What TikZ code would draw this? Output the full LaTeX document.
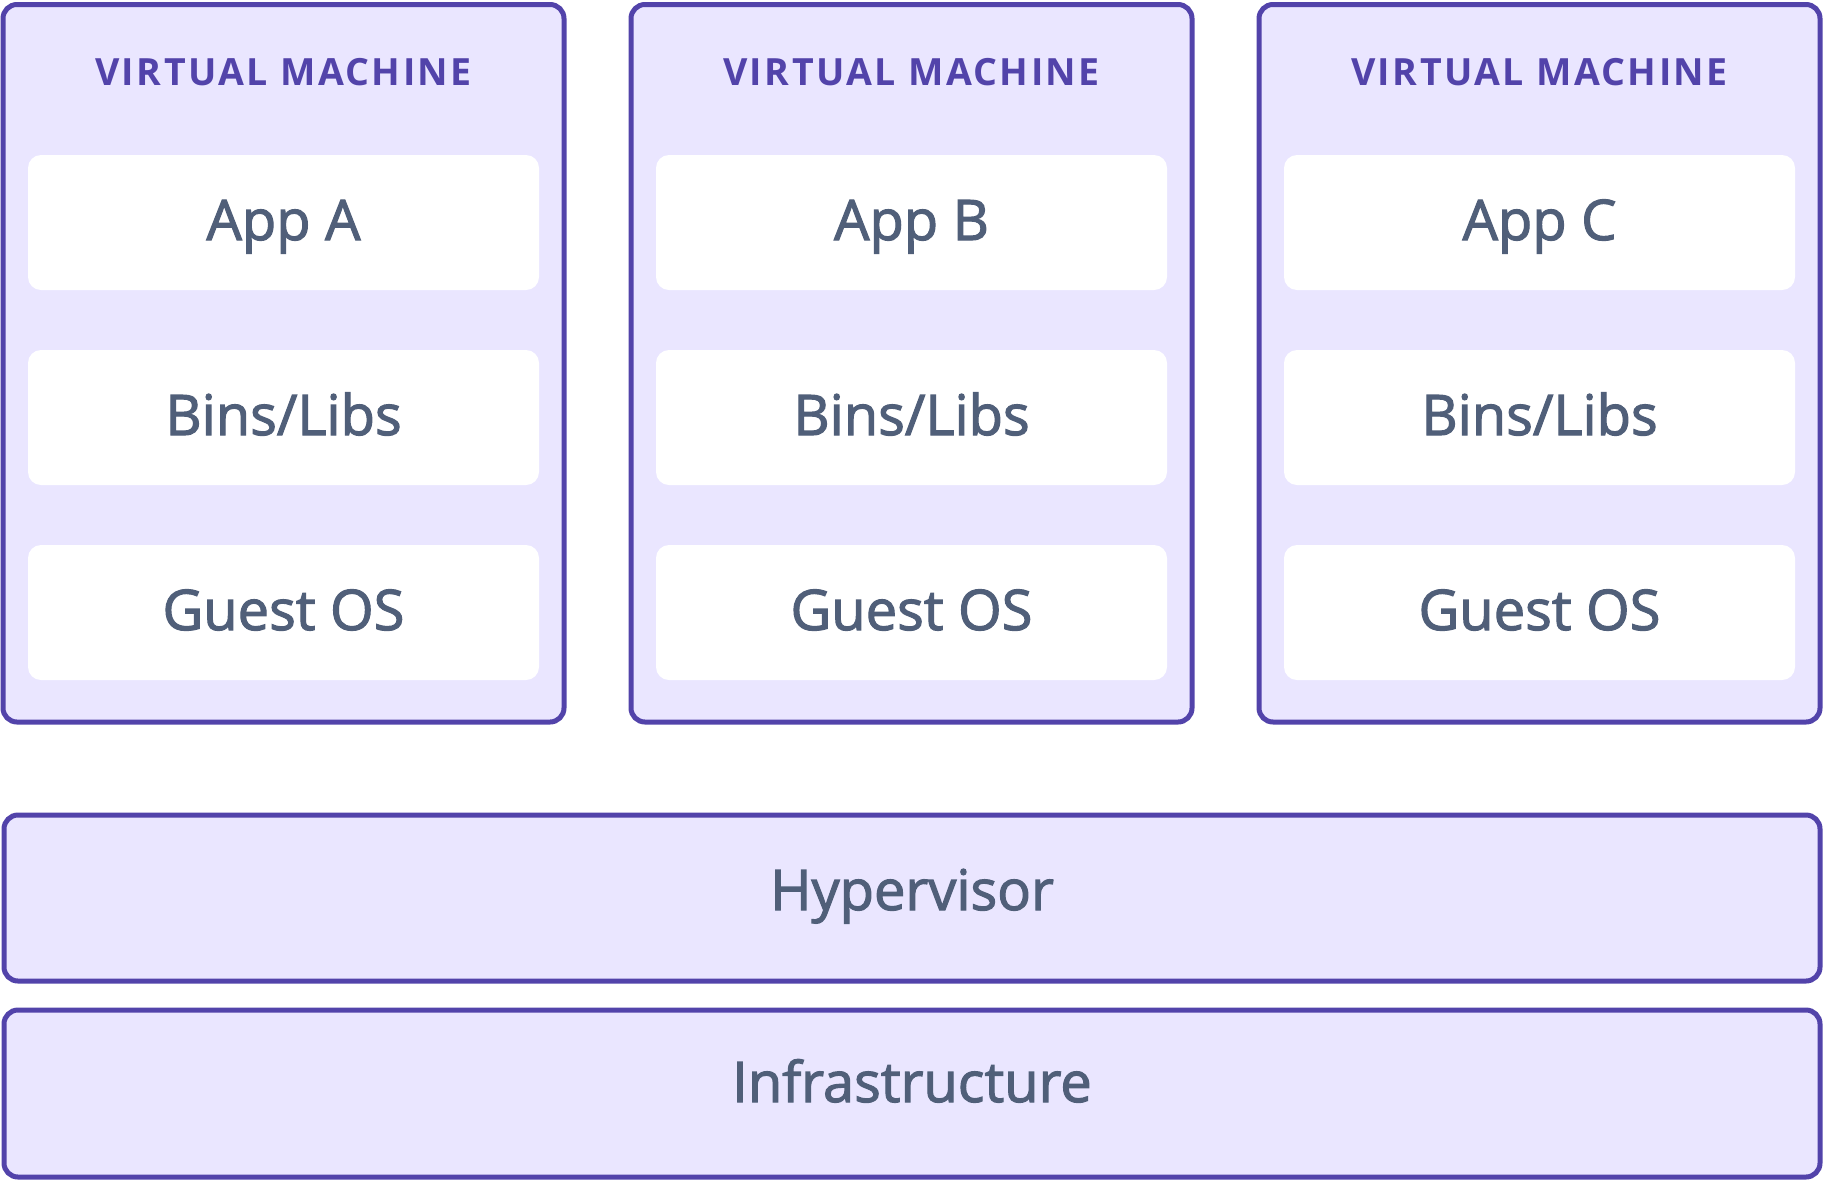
\documentclass[tikz,border=0pt]{standalone}
\usepackage{fontspec}
\setmainfont{Open Sans}
\newfontfamily\labfont[FakeBold=2]{Open Sans}
\newfontfamily\titlefont[LetterSpace=6.5]{Open Sans}
\definecolor{vmborder}{HTML}{5243AA}
\definecolor{vmfill}{HTML}{EAE6FF}
\definecolor{labtext}{HTML}{505F79}
\begin{document}
\begin{tikzpicture}[x=1pt,y=-1pt,
  outerbox/.style={draw=vmborder,fill=vmfill,line width=5pt,rounded corners=14pt},
  innerbox/.style={fill=white,rounded corners=13pt},
  lab/.style={anchor=base,text=labtext,font=\labfont\fontsize{56}{60}\selectfont,inner sep=0pt},
  vmtitle/.style={anchor=base,text=vmborder,font=\titlefont\bfseries\fontsize{37.5}{40}\selectfont,inner sep=0pt}]
\useasboundingbox (0,0) rectangle (1827,1184);
\foreach \i/\app/\dx in {1/A/0,2/B/628,3/C/1256}{
  \begin{scope}[xshift=\dx pt]
  \path[outerbox] (3,4.5) rectangle (564,722);
  \node[vmtitle] (title\i) at (283.5,85) {VIRTUAL MACHINE};
  \path[innerbox] (28,155) rectangle (539,290);
  \path[innerbox] (28,350) rectangle (539,485);
  \path[innerbox] (28,545) rectangle (539,680);
  \node[lab] (app\i) at (283.5,240) {App \app};
  \node[lab] (bins\i) at (283.5,435) {Bins/Libs};
  \node[lab] (guest\i) at (283.5,630) {Guest OS};
  \end{scope}
}
\path[outerbox] (4,815) rectangle (1820,981);
\node[lab] (hyper) at (912,910) {Hypervisor};
\path[outerbox] (4,1010) rectangle (1820,1177);
\node[lab] (infra) at (912,1102) {Infrastructure};
\end{tikzpicture}
\end{document}
